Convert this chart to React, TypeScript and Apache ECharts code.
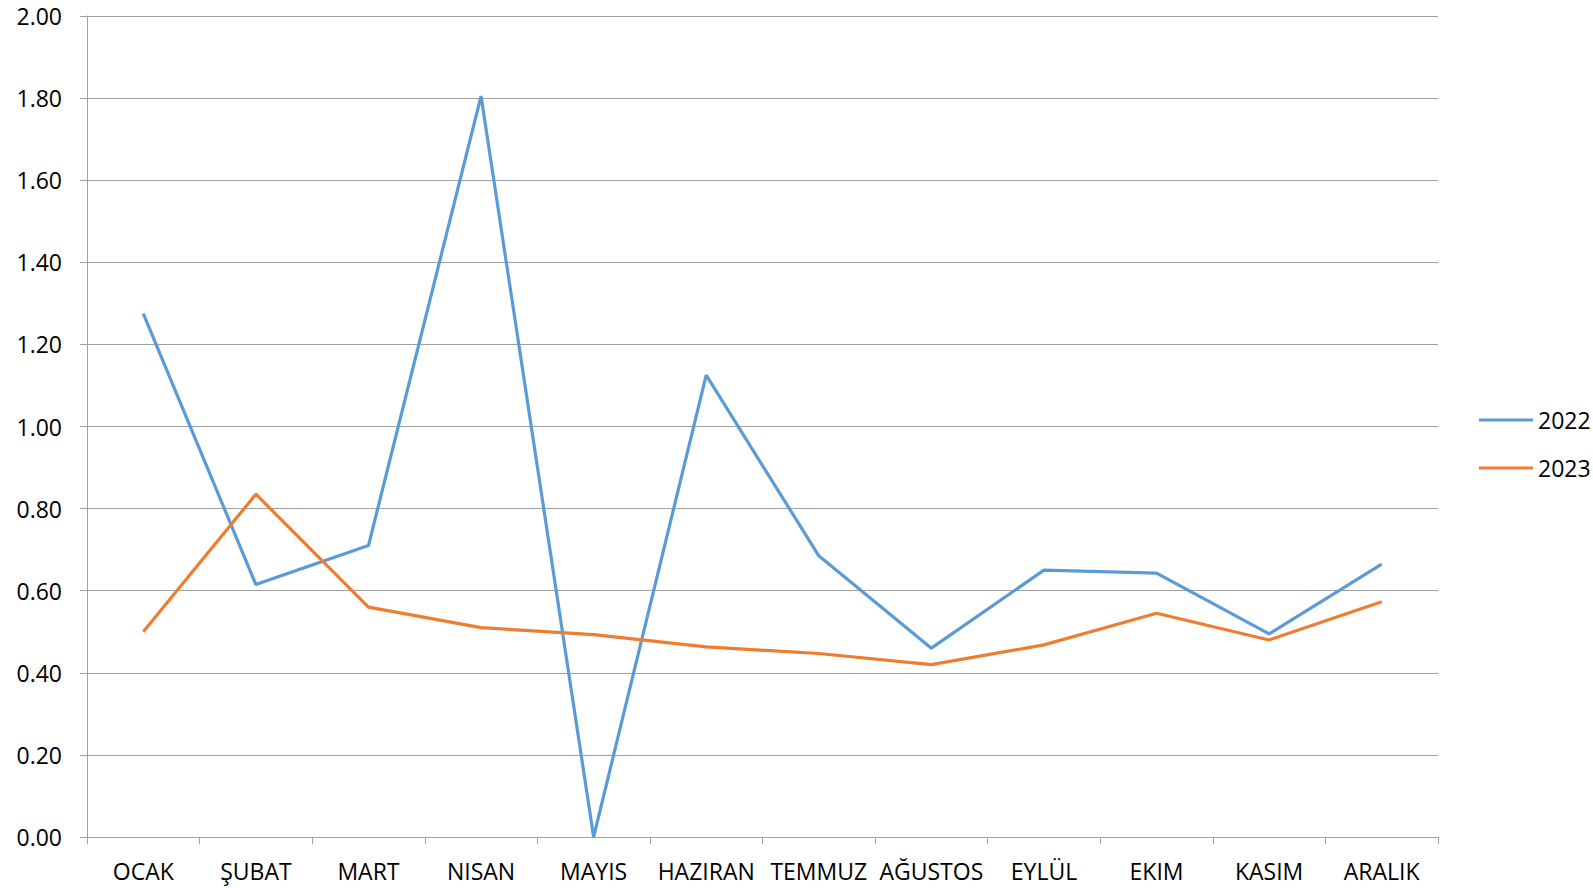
import React, { useEffect, useRef } from "react";
import * as echarts from "echarts";

const months = ["OCAK", "ŞUBAT", "MART", "NISAN", "MAYIS", "HAZIRAN", "TEMMUZ", "AĞUSTOS", "EYLÜL", "EKIM", "KASIM", "ARALIK"];
const values2022 = [1.275, 0.615, 0.71, 1.805, 0.0, 1.125, 0.685, 0.46, 0.65, 0.643, 0.495, 0.665];
const values2023 = [0.5, 0.835, 0.56, 0.51, 0.493, 0.463, 0.447, 0.42, 0.468, 0.545, 0.48, 0.573];
const seriesNames = ["2022", "2023"];

const FONT = "'Open Sans', sans-serif";

export default function App() {
  const ref = useRef<HTMLDivElement>(null);
  useEffect(() => {
    if (!ref.current) return;
    const chart = echarts.init(ref.current, undefined, { renderer: "svg" });
    chart.setOption({
      animation: false,
      backgroundColor: "#ffffff",
      textStyle: { fontFamily: FONT },
      grid: { left: 87, right: 155, top: 16, bottom: 51, containLabel: false },
      legend: {
        orient: "vertical",
        left: 1474,
        top: 403,
        icon: "rect",
        itemWidth: 54,
        itemHeight: 3,
        itemGap: 24,
        textStyle: { fontFamily: FONT, fontSize: 23, color: "#000", lineHeight: 24 },
        data: seriesNames,
      },
      xAxis: {
        type: "category",
        data: months,
        boundaryGap: true,
        axisLine: { show: true, lineStyle: { color: "#A0A0A0", width: 1 } },
        axisTick: { show: true, length: 7, lineStyle: { color: "#A0A0A0" }, alignWithLabel: false },
        axisLabel: { interval: 0, margin: 22, fontFamily: FONT, fontSize: 23, color: "#000" },
        splitLine: { show: false },
      },
      yAxis: {
        type: "value",
        min: 0,
        max: 2,
        interval: 0.2,
        axisLine: { show: true, lineStyle: { color: "#A0A0A0", width: 1 } },
        axisTick: { show: true, length: 7, lineStyle: { color: "#A0A0A0" } },
        axisLabel: {
          margin: 25,
          fontFamily: FONT,
          fontSize: 23,
          color: "#000",
          formatter: (v: number) => v.toFixed(2),
        },
        splitLine: { show: true, lineStyle: { color: "#A0A0A0", width: 1 } },
      },
      series: [
        {
          name: seriesNames[0],
          type: "line",
          data: values2022,
          symbol: "none",
          color: "#5B9BD5",
          lineStyle: { width: 3.2, color: "#5B9BD5" },
        },
        {
          name: seriesNames[1],
          type: "line",
          data: values2023,
          symbol: "none",
          color: "#ED7D31",
          lineStyle: { width: 3.2, color: "#ED7D31" },
        },
      ],
    });
    return () => chart.dispose();
  }, []);
  return (
    <div
      ref={ref}
      style={{ position: "fixed", left: 0, top: 0, width: 1593, height: 888, background: "#fff" }}
    />
  );
}
